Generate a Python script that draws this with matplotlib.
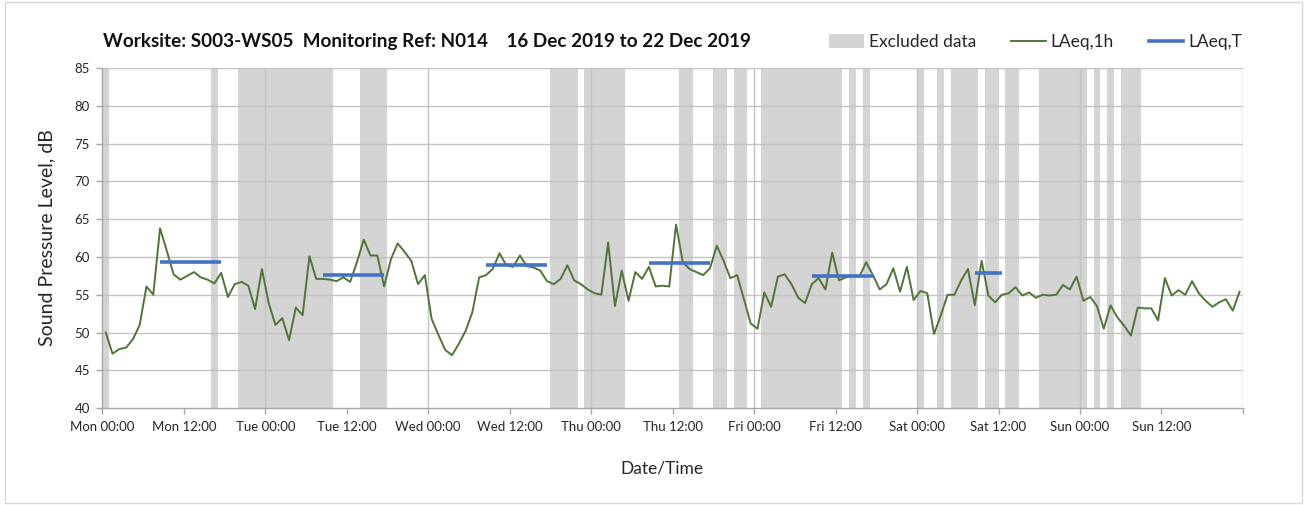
import numpy as np
import matplotlib
matplotlib.use("Agg")
import matplotlib.pyplot as plt
from matplotlib.patches import Patch, Rectangle
from matplotlib.lines import Line2D

# hourly LAeq,1h values, Mon 00:00 onwards (one per hour)
laeq_1h = [
    50.0, 47.2, 47.8, 48.0, 49.1, 51.0, 56.1, 55.0, 63.8, 60.8,
    57.7, 57.0, 57.5, 58.0, 57.3, 57.0, 56.5, 57.9, 54.7, 56.4,
    56.7, 56.2, 53.1, 58.4, 53.9, 51.0, 51.9, 49.0, 53.3, 52.3,
    60.1, 57.1, 57.1, 57.0, 56.8, 57.3, 56.7, 59.3, 62.3, 60.2,
    60.2, 56.1, 59.7, 61.8, 60.7, 59.5, 56.4, 57.6, 51.8, 49.7,
    47.7, 47.0, 48.5, 50.2, 52.7, 57.3, 57.6, 58.4, 60.5, 58.9,
    58.7, 60.2, 58.8, 58.6, 58.2, 56.8, 56.4, 57.1, 58.9, 56.9,
    56.4, 55.7, 55.2, 55.0, 61.9, 53.5, 58.2, 54.2, 58.0, 57.1,
    58.7, 56.1, 56.2, 56.1, 64.3, 59.3, 58.4, 58.0, 57.6, 58.5,
    61.5, 59.5, 57.2, 57.6, 54.4, 51.2, 50.5, 55.3, 53.4, 57.4,
    57.7, 56.4, 54.6, 53.9, 56.4, 57.2, 55.7, 60.6, 56.9, 57.3,
    57.5, 57.4, 59.3, 57.6, 55.7, 56.4, 58.5, 55.4, 58.7, 54.3,
    55.5, 55.2, 49.8, 52.3, 55.0, 55.0, 56.9, 58.4, 53.6, 59.5,
    54.9, 54.0, 55.0, 55.2, 56.0, 54.9, 55.3, 54.6, 55.0, 54.9,
    55.0, 56.3, 55.7, 57.4, 54.2, 54.7, 53.5, 50.5, 53.6, 52.0,
    50.9, 49.6, 53.3, 53.2, 53.2, 51.6, 57.2, 54.9, 55.6, 55.0,
    56.8, 55.2, 54.2, 53.4, 54.0, 54.4, 52.9, 55.4,
]

# excluded periods, hours from Mon 00:00
excl_start = [0, 16, 20, 38, 66, 71, 85, 90, 93, 97, 110, 112, 120, 123, 125, 130, 133, 138, 146, 148, 150]
excl_end = [1, 17, 34, 42, 70, 77, 87, 92, 95, 109, 111, 113, 121, 124, 129, 132, 135, 145, 147, 149, 153]

# LAeq,T daytime periods
lt_start = [8.5, 32.5, 56.5, 80.5, 104.5, 128.5]
lt_end = [17.5, 41.5, 65.5, 89.5, 113.5, 132.5]
lt_val = [59.3, 57.6, 58.9, 59.2, 57.5, 57.9]

tick_labels = ["Mon 00:00", "Mon 12:00", "Tue 00:00", "Tue 12:00", "Wed 00:00",
               "Wed 12:00", "Thu 00:00", "Thu 12:00", "Fri 00:00", "Fri 12:00",
               "Sat 00:00", "Sat 12:00", "Sun 00:00", "Sun 12:00", ""]

plt.rcParams['font.family'] = ['Lato', 'DejaVu Sans']

GREEN = '#4f7636'
BLUE = '#4472c4'
BAND = '#d4d4d4'
GRID = '#c3c3c3'
TXT = '#262626'

fig = plt.figure(figsize=(13.07, 5.05), dpi=100)
fig.patches.append(Rectangle((0.004, 0.004), 0.992, 0.992, transform=fig.transFigure,
                             fill=False, edgecolor='#d9d9d9', lw=1))
ax = fig.add_axes([0.0783, 0.192, 0.8727, 0.673])

hours = np.arange(len(laeq_1h)) + 0.5

for s, e in zip(excl_start, excl_end):
    ax.axvspan(s, e, color=BAND, lw=0, zorder=1)

ax.plot(hours, laeq_1h, color=GREEN, lw=1.4, zorder=3)
for s, e, v in zip(lt_start, lt_end, lt_val):
    ax.plot([s, e], [v, v], color=BLUE, lw=2.6, zorder=4, solid_capstyle='butt')

ax.set_xlim(0, 168)
ax.set_ylim(40, 85)
ax.set_yticks(np.arange(40, 86, 5))
ax.set_xticks(np.arange(0, 169, 12))
ax.set_xticklabels(tick_labels)

ax.grid(False)
for y in np.arange(45, 86, 5):
    ax.axhline(y, color=GRID, lw=1.0, zorder=2)
for x in np.arange(24, 169, 24):
    ax.axvline(x, color=GRID, lw=1.0, zorder=2)

for side in ['top', 'right']:
    ax.spines[side].set_visible(False)
for side in ['left', 'bottom']:
    ax.spines[side].set_color('#a6a6a6')
    ax.spines[side].set_linewidth(1.0)
    ax.spines[side].set_zorder(5)

ax.tick_params(axis='both', which='major', direction='out', length=4, width=1,
               color='#a6a6a6', labelsize=9.5, labelcolor=TXT, pad=5)

ax.set_ylabel("Sound Pressure Level, dB", fontsize=14, color=TXT, labelpad=14)
ax.set_xlabel("Date/Time", fontsize=12.5, color=TXT, labelpad=20)
ax.xaxis.set_label_coords(0.491, -0.155)

fig.text(103 / 1307, 1 - 41 / 505, "Worksite: S003-WS05  Monitoring Ref: N014    16 Dec 2019 to 22 Dec 2019",
         fontsize=13.6, fontweight='bold', color='#111111', va='center', ha='left')

handles = [Patch(facecolor=BAND, edgecolor='none'),
           Line2D([], [], color=GREEN, lw=1.4),
           Line2D([], [], color=BLUE, lw=2.6)]
fig.legend(handles, ["Excluded data", "LAeq,1h", "LAeq,T"], ncol=3, frameon=False,
           loc='center right', bbox_to_anchor=(1258 / 1307, 1 - 42 / 505),
           fontsize=12.5, handlelength=2.0, handleheight=0.9, handletextpad=0.3,
           columnspacing=2.0, labelcolor=TXT)

fig.savefig("out.png", dpi=100)
